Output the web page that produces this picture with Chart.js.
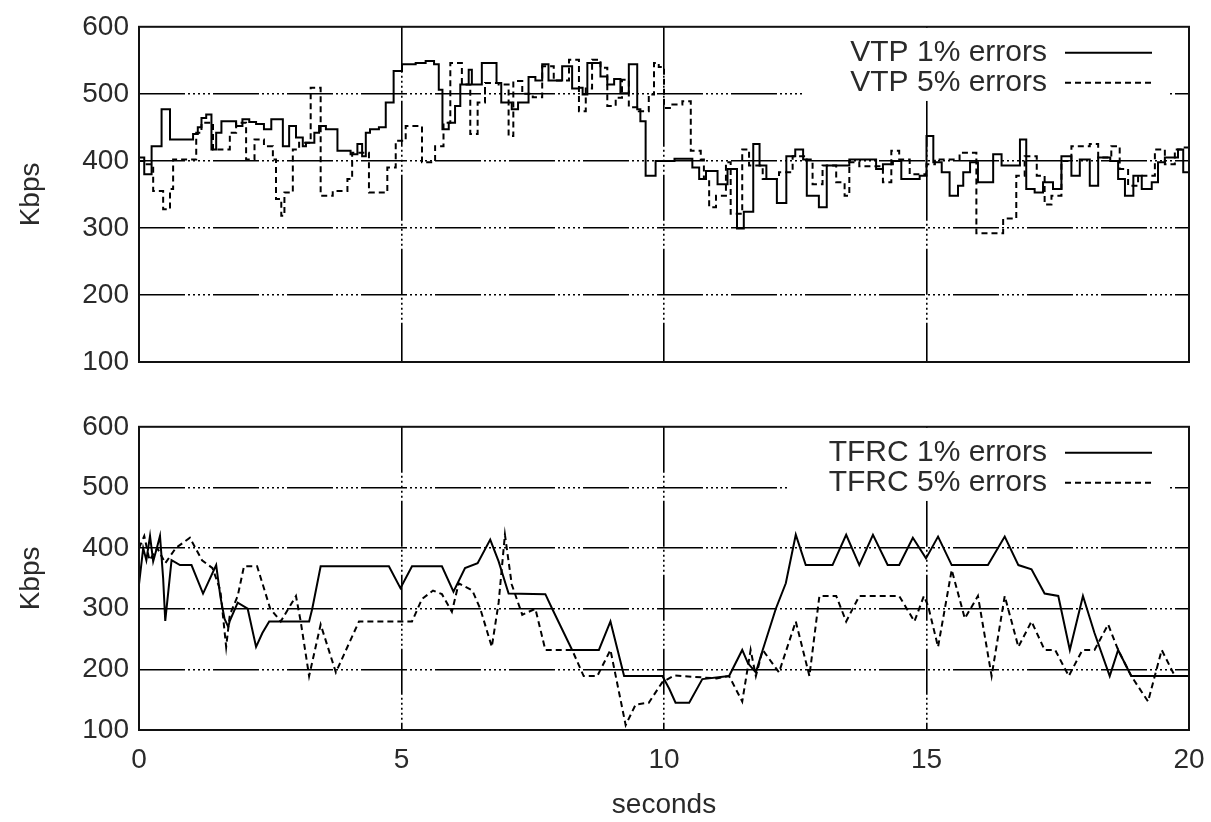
<!DOCTYPE html>
<html>
<head>
<meta charset="utf-8">
<script src="https://cdn.jsdelivr.net/npm/chart.js@4"></script>
<style>
  body { margin: 0; background: #fff; }
  .panel { position: absolute; left: 0; width: 1211px; }
</style>
</head>
<body>
<div class="panel" style="top:0;height:400px"><canvas id="vtpChart"></canvas></div>
<div class="panel" style="top:400px;height:422px"><canvas id="tfrcChart"></canvas></div>
<script>
// VTP, 1% errors (step plot: value holds until next time)
var vtp1T = [0, 0.1, 0.24, 0.43, 0.59, 1.03, 1.12, 1.19, 1.28, 1.38, 1.47, 1.57, 1.85, 1.97, 2.1, 2.23, 2.38, 2.52, 2.74, 2.86,
  2.99, 3.12, 3.18, 3.34, 3.43, 3.56, 3.78, 4.03, 4.16, 4.25, 4.32, 4.4, 4.57, 4.7, 4.85, 5.01, 5.27, 5.46, 5.62, 5.71,
  5.78, 5.9, 6.02, 6.12, 6.28, 6.34, 6.53, 6.81, 6.9, 7.1, 7.22, 7.42, 7.55, 7.68, 7.8, 8.06, 8.25, 8.38, 8.45, 8.54,
  8.79, 8.92, 9.05, 9.17, 9.33, 9.49, 9.55, 9.65, 9.84, 10.2, 10.54, 10.67, 10.8, 11.02, 11.21, 11.39, 11.52, 11.7, 11.82, 11.95,
  12.15, 12.33, 12.5, 12.65, 12.72, 12.95, 13.1, 13.53, 14.04, 14.17, 14.36, 14.52, 14.87, 15.0, 15.13, 15.29, 15.44, 15.6, 15.7, 15.83,
  15.98, 16.27, 16.43, 16.78, 16.9, 17.06, 17.22, 17.41, 17.57, 17.76, 17.92, 18.11, 18.27, 18.5, 18.65, 18.78, 18.94, 19.1, 19.29, 19.41,
  19.54, 19.79, 19.89, 20];
var vtp1V = [405, 380, 422, 477, 432, 440, 450, 464, 469, 417, 442, 459, 452, 462, 458, 455, 447, 462, 422, 452,
  435, 422, 427, 442, 452, 447, 415, 410, 425, 407, 442, 447, 450, 487, 534, 544, 546, 549, 544, 506,
  447, 457, 482, 514, 536, 514, 546, 516, 487, 477, 487, 525, 520, 544, 520, 541, 508, 509, 499, 546,
  526, 514, 522, 501, 544, 477, 459, 378, 400, 403, 390, 373, 385, 365, 388, 299, 324, 425, 393, 373,
  337, 407, 417, 402, 348, 331, 393, 402, 388, 395, 400, 373, 378, 437, 398, 383, 348, 363, 383, 398,
  368, 410, 393, 432, 358, 353, 368, 358, 407, 378, 402, 363, 405, 400, 373, 348, 378, 358, 368, 398,
  405, 417, 383, 383];

// VTP, 5% errors
var vtp5T = [0, 0.1, 0.27, 0.46, 0.59, 0.65, 1.0, 1.09, 1.19, 1.41, 1.73, 1.85, 2.04, 2.2, 2.38, 2.55, 2.61, 2.71, 2.77, 2.93,
  3.05, 3.27, 3.46, 3.69, 3.97, 4.06, 4.38, 4.73, 4.89, 5.08, 5.39, 5.64, 5.8, 5.93, 6.15, 6.31, 6.45, 6.59, 6.85, 7.04,
  7.13, 7.3, 7.5, 7.68, 7.9, 8.19, 8.38, 8.51, 8.63, 8.79, 8.92, 9.08, 9.2, 9.33, 9.52, 9.71, 9.81, 9.9, 10.0, 10.16,
  10.35, 10.51, 10.7, 10.76, 10.86, 10.99, 11.18, 11.27, 11.49, 11.62, 11.88, 12.19, 12.45, 12.7, 12.83, 13.02, 13.28, 13.44, 13.53, 13.72,
  14.17, 14.33, 14.48, 14.68, 15.0, 15.16, 15.63, 15.95, 16.46, 16.71, 16.87, 17.1, 17.25, 17.38, 17.57, 17.76, 18.11, 18.27, 18.52, 18.68,
  18.84, 19.03, 19.35, 19.54, 19.73, 19.86, 20];
var vtp5V = [400, 395, 355, 328, 358, 402, 402, 442, 457, 417, 442, 457, 402, 432, 422, 402, 343, 318, 353, 417,
  427, 509, 348, 355, 373, 412, 353, 390, 430, 452, 398, 422, 457, 546, 514, 440, 487, 516, 514, 437,
  519, 500, 495, 541, 520, 551, 474, 508, 551, 539, 482, 494, 521, 480, 474, 499, 546, 540, 479, 484,
  489, 415, 402, 373, 331, 348, 398, 321, 417, 393, 373, 383, 407, 402, 365, 393, 368, 348, 398, 392,
  368, 415, 402, 380, 395, 402, 412, 292, 314, 378, 407, 378, 335, 348, 400, 422, 425, 405, 422, 388,
  363, 378, 417, 395, 417, 420, 415];

// TFRC, 1% errors
var tfrc1T = [0, 0.08, 0.14, 0.21, 0.27, 0.34, 0.4, 0.46, 0.5, 0.56, 0.62, 0.78, 1.0, 1.22, 1.47, 1.55, 1.63, 1.7, 1.73, 1.88,
  2.07, 2.23, 2.35, 2.48, 3.24, 3.3, 3.46, 4.76, 4.98, 5.2, 5.77, 5.99, 6.21, 6.45, 6.69, 6.85, 7.04, 7.74, 7.87, 8.25,
  8.76, 8.98, 9.24, 9.97, 10.1, 10.22, 10.48, 10.73, 11.24, 11.49, 11.6, 11.75, 11.88, 12.13, 12.32, 12.51, 12.7, 13.21, 13.47, 13.72,
  13.98, 14.26, 14.48, 14.74, 14.99, 15.22, 15.48, 16.17, 16.49, 16.75, 17.0, 17.25, 17.51, 17.73, 17.98, 18.2, 18.49, 18.65, 18.9, 20];
var tfrc1V = [340, 400, 380, 420, 378, 400, 420, 350, 280, 330, 380, 372, 372, 325, 372, 320, 283, 270, 280, 310,
  300, 237, 260, 279, 279, 300, 370, 370, 334, 370, 370, 328, 367, 375, 414, 378, 325, 324, 300, 232,
  232, 279, 189, 189, 168, 145, 145, 184, 189, 232, 210, 195, 232, 300, 342, 422, 372, 372, 422, 372,
  422, 372, 372, 417, 383, 419, 372, 372, 419, 372, 365, 325, 321, 232, 321, 260, 189, 232, 189, 189];

// TFRC, 5% errors
var tfrc5T = [0, 0.1, 0.2, 0.35, 0.5, 0.7, 0.97, 1.2, 1.4, 1.55, 1.66, 1.73, 1.88, 2.0, 2.25, 2.5, 2.7, 2.99, 3.08, 3.24,
  3.46, 3.75, 4.19, 5.2, 5.39, 5.6, 5.77, 5.96, 6.09, 6.35, 6.5, 6.72, 6.85, 6.97, 7.1, 7.3, 7.55, 7.74, 8.25, 8.47,
  8.73, 8.98, 9.27, 9.46, 9.71, 9.97, 10.2, 11.0, 11.24, 11.49, 11.65, 11.75, 11.88, 12.19, 12.51, 12.77, 12.96, 13.28, 13.47, 13.72,
  14.48, 14.77, 14.95, 15.03, 15.22, 15.48, 15.73, 15.98, 16.24, 16.49, 16.75, 17.0, 17.25, 17.45, 17.71, 17.97, 18.2, 18.46, 18.65, 18.9,
  19.22, 19.48, 19.73, 20];
var tfrc5V = [400, 420, 380, 400, 375, 400, 417, 380, 367, 330, 237, 290, 321, 370, 370, 300, 279, 321, 279, 189,
  274, 195, 279, 279, 316, 330, 324, 295, 342, 330, 300, 237, 310, 422, 340, 290, 300, 232, 232, 189,
  189, 232, 108, 142, 145, 179, 190, 185, 189, 147, 232, 189, 232, 195, 279, 189, 321, 321, 279, 321,
  321, 279, 321, 305, 237, 364, 284, 321, 189, 321, 237, 279, 232, 232, 189, 232, 232, 274, 232, 189,
  147, 232, 189, 189];

var yTicks = [100, 200, 300, 400, 500, 600];
var xTicks = [0, 5, 10, 15, 20];

function toPoints(ts, vs) {
  var pts = [];
  for (let i = 0; i < ts.length; i++) {
    pts.push({ x: ts[i], y: vs[i] });
  }
  return pts;
}

var FONT = 'Liberation Sans, Arial, sans-serif';
var TEXT = '#2a2a2a';
var GRID_DASH = [46, 3, 2, 3, 2, 3, 2, 3, 2, 3, 2, 3];

// white legend box + text + line samples, drawn over the grid
var legendBox = {
  id: 'legendBox',
  beforeDatasetsDraw(chart, args, opts) {
    const ctx = chart.ctx;
    const top = chart.chartArea.top;
    ctx.save();
    ctx.fillStyle = '#fff';
    ctx.fillRect(opts.boxLeft, top + 1, 1168 - opts.boxLeft, 73);
    ctx.font = '30px ' + FONT;
    ctx.fillStyle = TEXT;
    ctx.textAlign = 'right';
    ctx.textBaseline = 'middle';
    ctx.strokeStyle = '#000';
    ctx.lineWidth = 2;
    opts.labels.forEach((lab, i) => {
      const y = top + 26 + i * 30;
      ctx.fillText(lab, 1047, y);
      ctx.setLineDash(i === 0 ? [] : [6, 4]);
      ctx.beginPath();
      ctx.moveTo(1065, y);
      ctx.lineTo(1152, y);
      ctx.stroke();
    });
    ctx.restore();
  }
};

// full frame around the plot area
var frame = {
  id: 'frame',
  afterDraw(chart) {
    const a = chart.chartArea;
    const ctx = chart.ctx;
    ctx.save();
    ctx.strokeStyle = '#111';
    ctx.lineWidth = 2;
    ctx.setLineDash([]);
    ctx.strokeRect(a.left, a.top, a.right - a.left, a.bottom - a.top);
    ctx.restore();
  }
};

function makeOptions(showX, boxLeft, labels, padTop, xHeight) {
  return {
    responsive: true,
    maintainAspectRatio: false,
    animation: false,
    devicePixelRatio: 1,
    layout: { padding: { top: padTop, right: 22, left: 0, bottom: 0 } },
    plugins: {
      legend: { display: false },
      tooltip: { enabled: false },
      legendBox: { boxLeft: boxLeft, labels: labels }
    },
    scales: {
      x: {
        type: 'linear',
        min: 0,
        max: 20,
        afterBuildTicks: (s) => { s.ticks = xTicks.map(v => ({ value: v })); },
        afterFit: (s) => {
          s.height = xHeight;
          s.paddingLeft = 0;
          s.paddingRight = 0;
        },
        ticks: {
          display: showX,
          color: TEXT,
          padding: 13,
          font: { family: FONT, size: 28 }
        },
        grid: {
          drawTicks: false,
          lineWidth: 1.6,
          color: (c) => (c.tick && c.tick.value > 0 && c.tick.value < 20) ? '#000' : 'rgba(0,0,0,0)'
        },
        border: { display: false, dash: GRID_DASH },
        title: {
          display: showX,
          text: 'seconds',
          color: TEXT,
          padding: { top: 0, bottom: 0 },
          font: { family: FONT, size: 28 }
        }
      },
      y: {
        min: 100,
        max: 600,
        afterBuildTicks: (s) => { s.ticks = yTicks.map(v => ({ value: v })); },
        afterFit: (s) => { s.width = 139; },
        ticks: {
          color: TEXT,
          padding: 10,
          font: { family: FONT, size: 28 }
        },
        grid: {
          drawTicks: false,
          lineWidth: 1.6,
          color: (c) => (c.tick && c.tick.value > 100 && c.tick.value < 600) ? '#000' : 'rgba(0,0,0,0)'
        },
        border: { display: false, dash: GRID_DASH },
        title: {
          display: true,
          text: 'Kbps',
          color: TEXT,
          padding: { top: 14, bottom: 0 },
          font: { family: FONT, size: 28 }
        }
      }
    }
  };
}

var vtpChart = new Chart(document.getElementById('vtpChart'), {
  type: 'line',
  plugins: [legendBox, frame],
  data: {
    datasets: [{
      label: 'VTP 1% errors',
      data: toPoints(vtp1T, vtp1V),
      stepped: true,
      borderColor: '#000',
      borderWidth: 2,
      pointRadius: 0
    }, {
      label: 'VTP 5% errors',
      data: toPoints(vtp5T, vtp5V),
      stepped: true,
      borderColor: '#000',
      borderWidth: 2,
      borderDash: [6, 4],
      pointRadius: 0
    }]
  },
  options: makeOptions(false, 805, ['VTP 1% errors', 'VTP 5% errors'], 26, 38)
});

var tfrcChart = new Chart(document.getElementById('tfrcChart'), {
  type: 'line',
  plugins: [legendBox, frame],
  data: {
    datasets: [{
      label: 'TFRC 1% errors',
      data: toPoints(tfrc1T, tfrc1V),
      borderColor: '#000',
      borderWidth: 2,
      pointRadius: 0,
      tension: 0
    }, {
      label: 'TFRC 5% errors',
      data: toPoints(tfrc5T, tfrc5V),
      borderColor: '#000',
      borderWidth: 2,
      borderDash: [6, 4],
      pointRadius: 0,
      tension: 0
    }]
  },
  options: makeOptions(true, 788, ['TFRC 1% errors', 'TFRC 5% errors'], 25, 92)
});
</script>
</body>
</html>
